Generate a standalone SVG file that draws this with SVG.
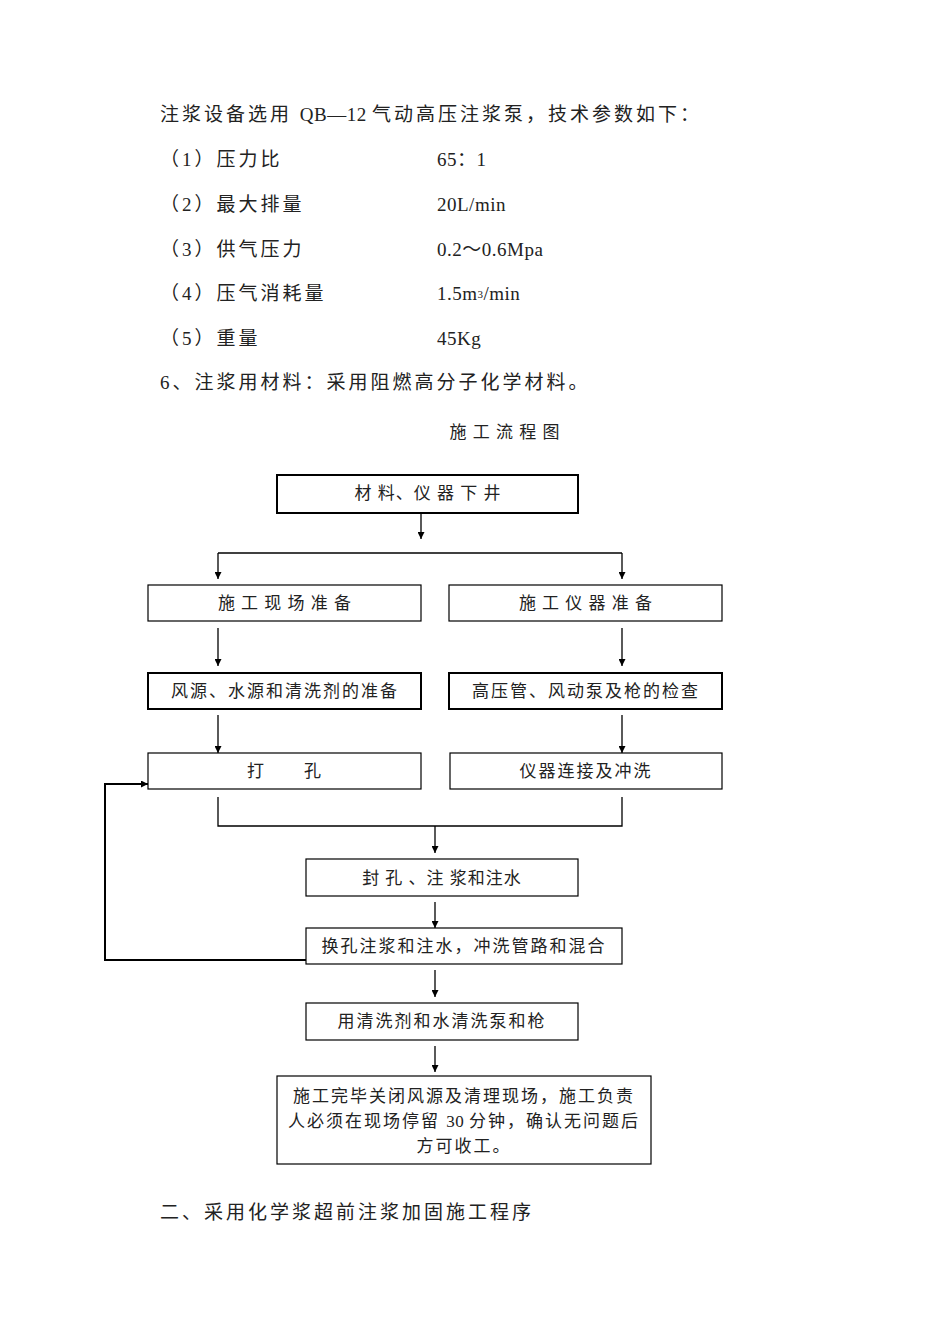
<svg xmlns="http://www.w3.org/2000/svg" width="950" height="1344" viewBox="0 0 950 1344">
<defs>
<marker id="a" viewBox="0 0 10 10" refX="10" refY="5" markerWidth="7" markerHeight="7" orient="auto" markerUnits="userSpaceOnUse"><path d="M0,0L10,5L0,10z" fill="#000"/></marker>
<style>
text{font-family:"Liberation Serif","Noto Sans CJK SC",serif;fill:#222}
.b{font-size:19px;letter-spacing:3px}
.f{font-size:17px;letter-spacing:2px;text-anchor:middle}
.s{letter-spacing:0.5px}
.l{letter-spacing:1px}
rect{fill:#fff;stroke:#000;stroke-width:1.2}
.t rect{stroke-width:2}
line,polyline{stroke:#000;stroke-width:1.3;fill:none}
.ar{marker-end:url(#a)}
</style>
</defs>
<rect x="0" y="0" width="950" height="1344" style="stroke:none"/>
<g id="text">
<text class="b" x="160" y="121">注浆设备选用 <tspan class="s">QB—12 </tspan>气动高压注浆泵，技术参数如下：</text>
<text class="b" x="160" y="166">（1）压力比</text><text class="b s" x="437" y="166">65：1</text>
<text class="b" x="160" y="211">（2）最大排量</text><text class="b s" x="437" y="211">20L/min</text>
<text class="b" x="160" y="256">（3）供气压力</text><text class="b s" x="437" y="256">0.2～0.6Mpa</text>
<text class="b" x="160" y="300">（4）压气消耗量</text><text class="b s" x="437" y="300">1.5m<tspan font-size="11" dy="-2">3</tspan><tspan dy="2">/min</tspan></text>
<text class="b" x="160" y="345">（5）重量</text><text class="b s" x="437" y="345">45Kg</text>
<text class="b" x="160" y="389">6、注浆用材料：采用阻燃高分子化学材料。</text>
<text class="f l" x="505" y="438">施 工 流 程 图</text>
<text class="b" x="160" y="1219">二、采用化学浆超前注浆加固施工程序</text>
</g>
<g id="connectors">
<line class="ar" x1="421" y1="513" x2="421" y2="539"/>
<line x1="218" y1="553" x2="622" y2="553"/>
<line class="ar" x1="218" y1="553" x2="218" y2="579"/>
<line class="ar" x1="622" y1="553" x2="622" y2="579"/>
<line class="ar" x1="218" y1="628" x2="218" y2="666"/>
<line class="ar" x1="622" y1="628" x2="622" y2="666"/>
<line class="ar" x1="218" y1="715" x2="218" y2="753"/>
<line class="ar" x1="622" y1="715" x2="622" y2="753"/>
<polyline points="218,797 218,826 622,826 622,797"/>
<line class="ar" x1="435" y1="826" x2="435" y2="853"/>
<line class="ar" x1="435" y1="902" x2="435" y2="928"/>
<line class="ar" x1="435" y1="970" x2="435" y2="997"/>
<line class="ar" x1="435" y1="1046" x2="435" y2="1072"/>
<polyline class="ar" points="306,960 105,960 105,784 148,784" style="stroke-width:2"/>
</g>
<g id="n1" class="t"><rect x="277" y="475" width="301" height="38"/><text class="f l" x="428" y="499">材 料、仪 器 下 井</text></g>
<g id="n2"><rect x="148" y="585" width="273" height="36"/><text class="f l" x="285" y="609">施 工 现 场 准 备</text></g>
<g id="n3"><rect x="449" y="585" width="273" height="36"/><text class="f l" x="586" y="609">施 工 仪 器 准 备</text></g>
<g id="n4" class="t"><rect x="148" y="673" width="273" height="36"/><text class="f" x="285" y="697">风源、水源和清洗剂的准备</text></g>
<g id="n5" class="t"><rect x="449" y="673" width="273" height="36"/><text class="f" x="586" y="697">高压管、风动泵及枪的检查</text></g>
<g id="n6"><rect x="148" y="753" width="273" height="36"/><text class="f" x="285" y="777">打　　孔</text></g>
<g id="n7"><rect x="450" y="753" width="272" height="36"/><text class="f" x="586" y="777">仪器连接及冲洗</text></g>
<g id="n8"><rect x="306" y="859" width="272" height="37"/><text class="f l" x="442" y="884">封 孔 、注 浆和注水</text></g>
<g id="n9"><rect x="306" y="928" width="316" height="36"/><text class="f" x="464" y="952">换孔注浆和注水，冲洗管路和混合</text></g>
<g id="n10"><rect x="306" y="1003" width="272" height="37"/><text class="f" x="442" y="1027">用清洗剂和水清洗泵和枪</text></g>
<g id="n11"><rect x="277" y="1076" width="374" height="88"/><text class="f" x="464" y="1102">施工完毕关闭风源及清理现场，施工负责</text><text class="f" x="464" y="1127">人必须在现场停留 <tspan class="s">30 </tspan>分钟，确认无问题后</text><text class="f" x="464" y="1152">方可收工。</text></g>
</svg>
